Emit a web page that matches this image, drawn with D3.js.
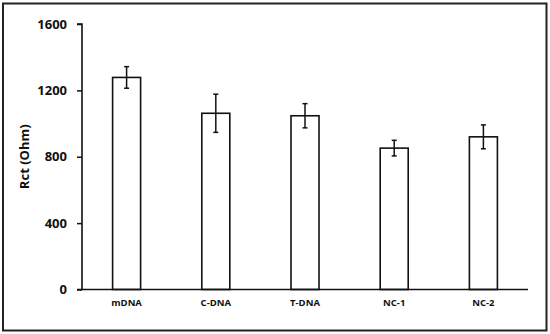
<!DOCTYPE html>
<html><head><meta charset="utf-8">
<script src="https://cdn.jsdelivr.net/npm/d3@7"></script>
<style>body{margin:0;background:#fff}svg{display:block}</style>
</head><body>
<svg id="c" width="550" height="334"></svg>
<script>
const categories = ["mDNA","C-DNA","T-DNA","NC-1","NC-2"];
const values = [1278, 1062, 1047, 852, 920];
const errors = [65, 115, 73, 47, 72];
const yTicks = [0, 400, 800, 1200, 1600];
const yLabel = "Rct (Ohm)";

const svg = d3.select("#c");
const font = "'Open Sans', sans-serif";
svg.append("rect").attr("x",3).attr("y",3.5).attr("width",543.5).attr("height",327)
  .attr("fill","#fff").attr("stroke","#222").attr("stroke-width",2);

const L=82, R=528, T=24, B=289.5;
const x = d3.scaleBand().domain(categories).range([L,R]).paddingInner(0.686).paddingOuter(0.343);
const y = d3.scaleLinear().domain([0,1600]).range([B,T]);

const g = svg.append("g");
g.selectAll("rect.bar").data(categories).join("rect").attr("class","bar")
  .attr("x",d=>x(d)).attr("width",x.bandwidth())
  .attr("y",(d,i)=>y(values[i])).attr("height",(d,i)=>B-y(values[i]))
  .attr("fill","#fff").attr("stroke","#111").attr("stroke-width",1.6);
const eb = g.selectAll("g.err").data(categories).join("g").attr("class","err");
eb.append("line").attr("x1",d=>x(d)+x.bandwidth()/2).attr("x2",d=>x(d)+x.bandwidth()/2)
  .attr("y1",(d,i)=>y(values[i]+errors[i])).attr("y2",(d,i)=>y(values[i]-errors[i]))
  .attr("stroke","#111").attr("stroke-width",1.5);
[1,-1].forEach(s=>{
  eb.append("line").attr("x1",d=>x(d)+x.bandwidth()/2-2.5).attr("x2",d=>x(d)+x.bandwidth()/2+2.5)
    .attr("y1",(d,i)=>y(values[i]+s*errors[i])).attr("y2",(d,i)=>y(values[i]+s*errors[i]))
    .attr("stroke","#111").attr("stroke-width",1.5);
});

const ya = svg.append("g").attr("transform",`translate(${L},0)`)
  .call(d3.axisLeft(y).tickValues(yTicks).tickSize(5).tickPadding(10).tickFormat(d3.format("d")));
ya.select(".domain").attr("stroke","#111").attr("stroke-width",1.6).attr("d",`M-5,${T}H0V${B}`);
ya.selectAll(".tick line").attr("stroke","#111").attr("stroke-width",1.5);
ya.selectAll(".tick text").attr("font-family",font).attr("font-weight","bold").attr("font-size",13).attr("fill","#111");

const xa = svg.append("g").attr("transform",`translate(0,${B})`)
  .call(d3.axisBottom(x).tickSize(0).tickPadding(10));
xa.select(".domain").attr("stroke","#111").attr("stroke-width",1.6).attr("d",`M${L-5},0H${R}`);
xa.selectAll(".tick text").attr("font-family",font).attr("font-weight","bold").attr("font-size",9.5).attr("fill","#111");

svg.append("text").attr("transform",`translate(29,${(T+B)/2}) rotate(-90)`)
  .attr("text-anchor","middle").attr("font-family",font).attr("font-weight","bold")
  .attr("font-size",13).attr("fill","#111").text(yLabel);
</script>
</body></html>
